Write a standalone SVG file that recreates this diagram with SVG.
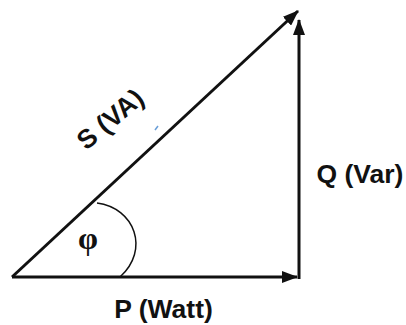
<svg xmlns="http://www.w3.org/2000/svg" width="406" height="325" viewBox="0 0 406 325">
<defs>
<style>
.vec{stroke:#111;stroke-width:3;fill:none;stroke-linecap:butt}
.lbl{font-family:"Liberation Sans",Arial,sans-serif;font-weight:bold;font-size:26.5px;fill:#111}
.sym{font-family:"Liberation Serif","Times New Roman",serif;font-weight:bold;font-size:32px;fill:#111}
</style>
<marker id="ah" markerUnits="userSpaceOnUse" markerWidth="16" markerHeight="12" viewBox="0 0 16 12" refX="15" refY="6" orient="auto">
<path d="M0,0 L16,6 L0,12 z" fill="#111"/>
</marker>
</defs>
<rect width="406" height="325" fill="#fff"/>
<g id="connectors">
<line id="P" class="vec" x1="12" y1="277" x2="297" y2="277" marker-end="url(#ah)"/>
<line id="Q" class="vec" x1="299" y1="279" x2="299" y2="20" marker-end="url(#ah)"/>
<line id="S" class="vec" x1="12" y1="277" x2="298" y2="11" marker-end="url(#ah)"/>
<path id="angle" d="M97,203 C135,208 150,250 120,277" fill="none" stroke="#111" stroke-width="1.5"/>
<line x1="155" y1="130" x2="158" y2="126" stroke="#6a9fd8" stroke-width="1.5"/>
</g>
<g id="label-S"><text class="lbl" transform="translate(116,126) rotate(-40)" text-anchor="middle">S (VA)</text></g>
<g id="label-Q"><text class="lbl" x="360" y="183" text-anchor="middle">Q (Var)</text></g>
<g id="label-P"><text class="lbl" x="163.5" y="318" text-anchor="middle">P (Watt)</text></g>
<g id="label-phi"><text class="sym" x="88" y="249" text-anchor="middle">φ</text></g>
</svg>
